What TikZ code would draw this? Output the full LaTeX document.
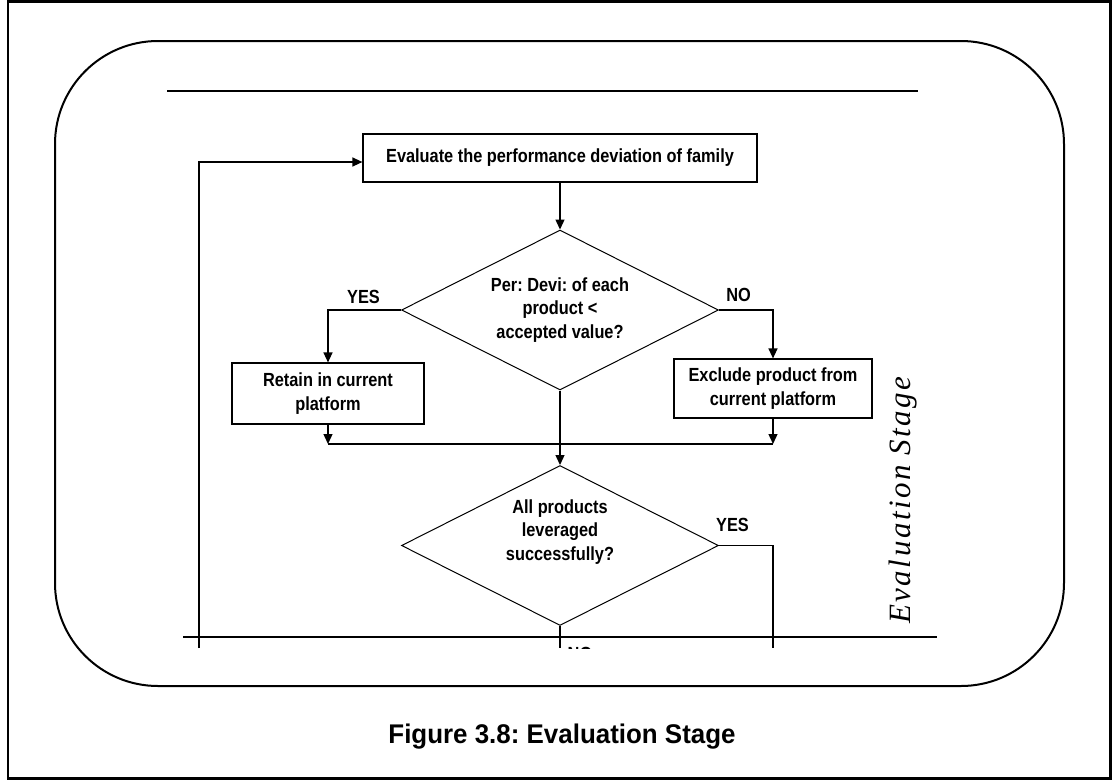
\documentclass[tikz,border=0pt]{standalone}
\usepackage{fontspec}
\setmainfont{Liberation Sans}
\newfontfamily\flowfont[FakeStretch=0.86]{Liberation Sans}
\newfontfamily\capfont[FakeStretch=0.96]{Liberation Sans}
\newfontfamily\stagefont[LetterSpace=8]{Liberation Serif Italic}
\usetikzlibrary{arrows.meta,shapes.geometric}
\frenchspacing

\begin{document}
\begin{tikzpicture}[x=1pt,y=-1pt,
  flow/.style={font=\flowfont\fontsize{19}{23.5}\selectfont\bfseries, align=center},
  procbox/.style={flow, draw, line width=1.2pt, inner sep=0pt},
  decision/.style={flow, draw, diamond, shape aspect=2, line width=1pt, inner sep=0pt,
                   minimum width=317pt, minimum height=160pt},
  link/.style={line width=1.3pt},
  arr/.style={link, -{Triangle[length=10pt,width=9pt]}},
  lbl/.style={font=\flowfont\fontsize{19}{20}\selectfont\bfseries, inner sep=0pt},
  rule/.style={line width=2pt}
]
\useasboundingbox (0,0) rectangle (1112,780);

% page frame and stage outline
\draw[line width=2.5pt] (8,1.5) rectangle (1110.5,778.5);
\draw[line width=2pt, rounded corners=103pt] (55,41) rectangle (1064,686);
\draw[rule] (167,91) -- (918,91);
\draw[rule] (183,637) -- (937,637);

\begin{scope}
\clip (0,0) rectangle (1112,648);

% process boxes
\node[procbox, minimum width=394pt, minimum height=48pt] (eval) at (560,158)
  {Evaluate the performance deviation of family};
\node[procbox, minimum width=192pt, minimum height=61pt] (retain) at (328,393.5)
  {Retain in current\\platform};
\node[procbox, minimum width=198pt, minimum height=59pt] (excl) at (773,388.5)
  {Exclude product from\\current platform};

% decisions
\node[decision] (dev) at (560,310)
  {Per: Devi: of each\\product <\\accepted value?};
\node[decision] (all) at (560,545.5) {};
\node[flow] (alltext) at (560,532) {All products\\leveraged\\successfully?};

% branch labels
\node[lbl] (yes1) at (363.5,297) {YES};
\node[lbl] (no1) at (738.5,295) {NO};
\node[lbl] (yes2) at (732.5,525) {YES};
\node[lbl] (no2) at (580,654) {NO};

% join points and loose ends
\coordinate (joinL) at (328,444);
\coordinate (joinR) at (773,444);
\coordinate (loop) at (199,648);
\coordinate (yesEnd) at (773,648);
\coordinate (noEnd) at (560,648);

% connectors
\draw[arr] (eval.south) -- (dev.north);
\draw[arr] (dev.west) -| (retain.north);
\draw[arr] (dev.east) -| (excl.north);
\draw[arr] (retain.south) -- (joinL);
\draw[arr] (excl.south) -- (joinR);
\draw[link] (joinL) -- (joinR);
\draw[arr] (dev.south) -- (all.north);
\draw[link] (all.east) -| (yesEnd);
\draw[link] (all.south) -- (noEnd);
\draw[arr] (loop) |- ([yshift=-4pt]eval.west);
\end{scope}

% side title and caption
\node[rotate=90, font=\stagefont\fontsize{31}{34}\selectfont] (stage) at (903,500)
  {Evaluation Stage};
\node[font=\capfont\fontsize{27}{30}\selectfont\bfseries] (caption) at (562,737)
  {Figure 3.8: Evaluation Stage};
\end{tikzpicture}
\end{document}
